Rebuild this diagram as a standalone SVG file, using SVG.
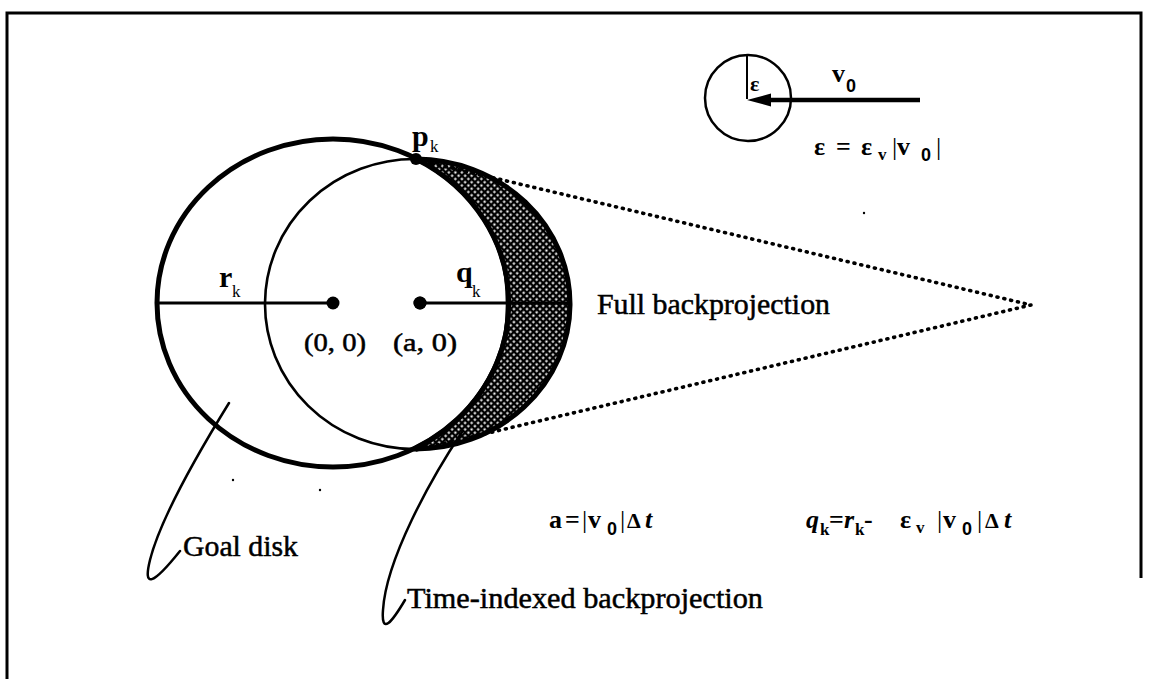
<svg xmlns="http://www.w3.org/2000/svg" width="1149" height="679" viewBox="0 0 1149 679">
<defs>
<pattern id="hatch" width="4.6" height="4.6" patternUnits="userSpaceOnUse" patternTransform="rotate(45)">
<rect width="4.6" height="4.6" fill="#000"/>
<rect x="1.3" y="1.3" width="2.1" height="2.1" fill="#fff"/>
</pattern>
<style>
text{font-family:"Liberation Serif","Times New Roman",serif;fill:#000}
.t30{font-size:30px;stroke:#000;stroke-width:0.5}
.lab{font-size:30px;font-weight:bold}
.sub{font-size:17px}
.f{font-size:26px;font-weight:bold}
.fs{font-size:17px;font-weight:bold}
.sans{font-family:"Liberation Sans",Arial,sans-serif}
.ln{fill:none;stroke:#000}
.dot{fill:#000}
</style>
</defs>
<rect width="1149" height="679" fill="#fff"/>
<g id="frame">
<path class="ln" stroke-width="3" d="M7 679 V13 H1141 V578"/>
</g>
<g id="goal-disk">
<ellipse class="ln" cx="333" cy="303" rx="176" ry="164" stroke-width="5"/>
<line class="ln" x1="157" y1="303" x2="333" y2="303" stroke-width="3"/>
<circle class="dot" cx="333" cy="303" r="6.5"/>
<text class="lab" x="219" y="287">r</text>
<text class="sub" x="232" y="297">k</text>
<text class="t30" x="304" y="351" textLength="62" lengthAdjust="spacingAndGlyphs" style="font-size:25px">(0, 0)</text>
</g>
<g id="time-indexed-disk">
<path class="ln" stroke-width="2.6" d="M416 159 A150 145 0 0 0 414 449 A92 145 0 0 0 416 159"/>
<circle class="dot" cx="420" cy="303" r="6.5"/>
<text class="lab" x="456" y="282">q</text>
<text class="sub" x="472" y="297">k</text>
<text class="t30" x="393" y="351" textLength="64" lengthAdjust="spacingAndGlyphs" style="font-size:25px">(a, 0)</text>
</g>
<g id="crescent">
<path d="M416 159 A155 145 0 0 1 414 449 A176 164 0 0 0 416 159 Z" fill="url(#hatch)" stroke="#000" stroke-width="5" stroke-linejoin="round"/>
<line class="ln" x1="420" y1="303" x2="570" y2="303" stroke-width="3"/>
<circle class="dot" cx="420" cy="303" r="6.5"/>
</g>
<g id="connectors">
<path class="ln" stroke-width="3.6" stroke-linecap="round" stroke-dasharray="1 6" d="M418 160 L1031 305 L416 450"/>
<path class="ln" stroke-width="2.5" stroke-linecap="round" d="M229 403 C200 450 160 520 150 560 C143 588 152 586 180 551"/>
<path class="ln" stroke-width="2.5" stroke-linecap="round" d="M462 432 C430 480 386 560 383 610 C381 636 392 622 405 600"/>
</g>
<g id="pk">
<circle class="dot" cx="416" cy="159" r="6"/>
<text class="lab" x="412" y="146">p</text>
<text class="sub" x="430" y="152">k</text>
</g>
<g id="full-backprojection-label">
<text class="t30" x="597" y="314" textLength="233" lengthAdjust="spacingAndGlyphs">Full backprojection</text>
</g>
<g id="goal-disk-label">
<text class="t30" x="183" y="556" textLength="115" lengthAdjust="spacingAndGlyphs">Goal disk</text>
</g>
<g id="time-indexed-label">
<text class="t30" x="407" y="608" textLength="356" lengthAdjust="spacingAndGlyphs">Time-indexed backprojection</text>
</g>
<g id="velocity-inset">
<circle class="ln" cx="748" cy="98" r="43" stroke-width="2.5"/>
<line class="ln" x1="747" y1="55" x2="747" y2="99" stroke-width="2"/>
<line class="ln" x1="920" y1="100" x2="766" y2="100" stroke-width="4.5"/>
<polygon class="dot" points="747,100 771,93.5 771,106.5"/>
<text class="f" x="750" y="91" style="font-size:22px">ε</text>
<text class="f" x="832" y="82">v</text>
<text class="fs sans" x="846" y="92" style="font-size:18px">0</text>
</g>
<g id="formula-epsilon">
<text class="f" x="814" y="155">ε</text>
<text class="f" x="836" y="155">=</text>
<text class="f" x="861" y="155">ε</text>
<text class="fs" x="878" y="160">v</text>
<text class="f" x="892" y="155" style="font-weight:normal">|</text>
<text class="f" x="897" y="155">v</text>
<text class="fs sans" x="921" y="161" style="font-size:18px">0</text>
<text class="f" x="936" y="155" style="font-weight:normal">|</text>
</g>
<g id="formula-a">
<text class="f" x="549" y="528">a</text>
<text class="f" x="565" y="528">=</text>
<text class="f" x="582" y="528" style="font-weight:normal">|</text>
<text class="f" x="588" y="528">v</text>
<text class="fs sans" x="607" y="535" style="font-size:18px">0</text>
<text class="f" x="620" y="528" style="font-weight:normal">|</text>
<text class="f" x="627" y="528" style="font-size:22px">Δ</text>
<text class="f" x="645" y="528" style="font-style:italic">t</text>
</g>
<g id="formula-q">
<text class="f" x="806" y="528" style="font-style:italic">q</text>
<text class="fs" x="820" y="535">k</text>
<text class="f" x="829" y="528">=</text>
<text class="f" x="844" y="528" style="font-style:italic">r</text>
<text class="fs" x="855" y="535">k</text>
<text class="f" x="864" y="528">-</text>
<text class="f" x="900" y="528">ε</text>
<text class="fs" x="916" y="533">v</text>
<text class="f" x="937" y="528" style="font-weight:normal">|</text>
<text class="f" x="943" y="528">v</text>
<text class="fs sans" x="962" y="535" style="font-size:18px">0</text>
<text class="f" x="977" y="528" style="font-weight:normal">|</text>
<text class="f" x="985" y="528" style="font-size:22px">Δ</text>
<text class="f" x="1004" y="528" style="font-style:italic">t</text>
</g>
<g id="specks">
<circle class="dot" cx="864" cy="213" r="1.2"/>
<circle class="dot" cx="233" cy="480" r="1.2"/>
<circle class="dot" cx="320" cy="490" r="1.2"/>
</g>
</svg>
